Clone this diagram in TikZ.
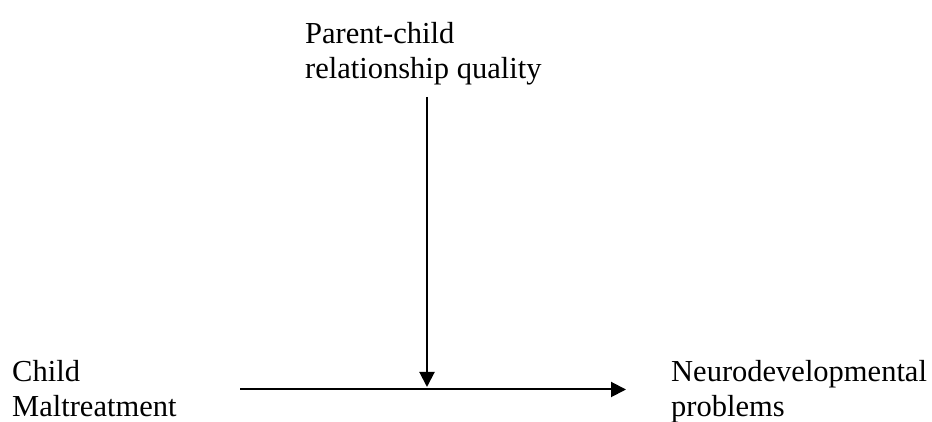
\documentclass[tikz,border=0pt]{standalone}
\usepackage{fontspec}
\setmainfont{Liberation Serif}
\usetikzlibrary{arrows.meta,positioning}
\begin{document}
\begin{tikzpicture}[
    x=1pt, y=1pt,
    lbl/.style={inner sep=0pt, align=left, anchor=north west, font=\fontsize{30.5}{35}\selectfont},
    arrow/.style={-{Triangle[length=15pt,width=15pt]}, line width=2pt}
]
    \useasboundingbox (0,0) rectangle (932,422);
    \node[lbl] (moderator) at (305,399.5) {Parent-child\\relationship quality};
    \node[lbl] (maltreat) at (12,62) {Child\\Maltreatment};
    \node[lbl] (outcome) at (671,62) {Neurodevelopmental\\problems};

    \coordinate (start) at (240,32.5);
    \coordinate (stop) at (626,32.5);
    \coordinate (top) at (427,325);
    \coordinate (mid) at (427,35);

    \draw[arrow] (start) -- (stop);
    \draw[arrow] (top) -- (mid);
\end{tikzpicture}
\end{document}
